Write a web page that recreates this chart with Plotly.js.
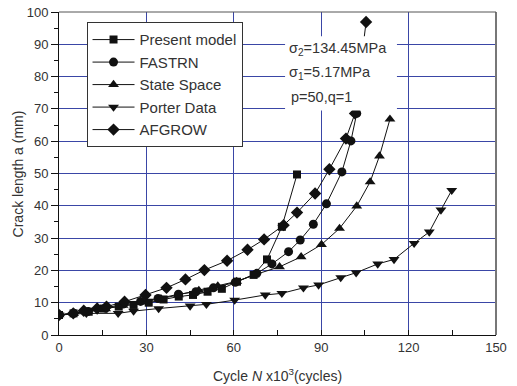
<!DOCTYPE html>
<html><head><meta charset="utf-8">
<script src="https://cdn.plot.ly/plotly-3.0.1.min.js"></script>
<style>html,body{margin:0;padding:0;background:#fff;}#chart{width:517px;height:386px;}</style>
</head><body><div id="chart"></div>
<script>
const seriesNames = ["Present model", "FASTRN", "State Space", "Porter Data", "AFGROW"];
const markerSymbols = ["square", "circle", "triangle-up", "triangle-down", "diamond"];

const presentX = [0, 5, 10.2, 15.4, 20.5, 25.6, 30.8, 35.9, 41.1, 46, 51, 55.9, 61.1, 66.8, 71.4, 76.5, 81.7];
const presentY = [6.2, 6.7, 7.2, 8.2, 8.8, 9.3, 10, 11, 11.9, 12.4, 13.4, 14.3, 16.5, 18.6, 23.4, 33.5, 49.7];

const fastrnX = [0, 5, 10, 16, 22, 28, 34, 41, 47, 53, 60.5, 67.9, 73.1, 78.8, 82.8, 87.3, 91.8, 97.1, 100.2, 102.2];
const fastrnY = [6.2, 6.7, 7.3, 8.3, 9.6, 10.4, 11.3, 12.6, 13.4, 14.6, 16.3, 19.1, 22, 25.8, 29.4, 34.3, 40.6, 50.5, 60.1, 68.6];

const stateX = [0, 5, 10, 16, 22, 28, 35, 41, 48, 54.5, 61, 67, 75.7, 83.1, 90.1, 96.3, 102.2, 106.8, 110, 113.6];
const stateY = [6.2, 6.6, 7.2, 8.1, 9.2, 10.2, 11.2, 12.4, 13.8, 15.2, 16.6, 18.6, 21.1, 24.2, 28, 33, 39.9, 47.4, 55.4, 66.8];

const porterX = [0, 9.4, 20.3, 25.6, 34.2, 45, 50.6, 60.3, 70.8, 76.5, 83.9, 89.1, 96.7, 102, 109.4, 115, 121.9, 127.1, 131.1, 134.8];
const porterY = [6.2, 6.7, 6.7, 7.4, 8.2, 9, 9.5, 10.8, 12.4, 12.9, 14.6, 15.5, 17.8, 19.3, 22, 23.4, 28.4, 31.9, 38.7, 44.8];

const afgrowX = [0, 4.9, 8.5, 13.1, 16.3, 22.5, 29.7, 36.9, 43.4, 49.9, 57.7, 64.7, 70.4, 77.1, 81.7, 87.9, 92.8, 98.5, 101.6, 105.4];
const afgrowY = [6.2, 6.7, 7.5, 8.2, 8.8, 10.3, 12.4, 14.6, 17.2, 20.1, 23, 26.4, 29.6, 34, 37.9, 43.8, 51.3, 60.8, 68.6, 96.9];

const xTicks = [0, 30, 60, 90, 120, 150];
const yTicks = [0, 10, 20, 30, 40, 50, 60, 70, 80, 90, 100];
const annoLines = ["σ<sub>2</sub>=134.45MPa", "σ<sub>1</sub>=5.17MPa", "p=50,q=1"];
const xTitle = "Cycle <i>N</i> x10<sup>3</sup>(cycles)";
const yTitle = "Crack length a (mm)";

const xs = [presentX, fastrnX, stateX, porterX, afgrowX];
const ys = [presentY, fastrnY, stateY, porterY, afgrowY];
const sizes = [8, 9, 9.5, 9.5, 9.5];

const traces = seriesNames.map((n, i) => ({
  x: xs[i], y: ys[i], name: n, type: 'scatter', mode: 'lines+markers',
  line: {color: '#111', width: 1},
  marker: {symbol: markerSymbols[i], color: '#111', size: sizes[i]}
}));

const gridC = '#3a46a6';
const font = "Liberation Sans, Arial, sans-serif";

const layout = {
  width: 517, height: 386,
  margin: {l: 58.5, r: 21, t: 11.7, b: 51},
  paper_bgcolor: '#fff', plot_bgcolor: '#fff',
  font: {family: font, color: '#333', size: 13},
  showlegend: true,
  legend: {x: 0.063, y: 0.968, xanchor: 'left', yanchor: 'top', bgcolor: '#fff',
           bordercolor: '#333', borderwidth: 1, font: {size: 15, color: '#333'},
           tracegroupgap: 0, itemwidth: 42},
  xaxis: {range: [0, 150], tickvals: xTicks, ticktext: xTicks.map(String),
          ticks: 'inside', ticklen: 5, tickcolor: '#111', showline: true, linecolor: '#111', linewidth: 1,
          showgrid: true, gridcolor: gridC, gridwidth: 1, zeroline: false,
          minor: {dtick: 15, ticks: 'inside', ticklen: 5, tickcolor: '#111', showgrid: false},
          tickfont: {size: 13, color: '#333'}},
  yaxis: {range: [0, 100], tickvals: yTicks, ticktext: yTicks.map(String),
          ticks: 'outside', ticklen: 7, tickcolor: '#111', showline: true, linecolor: '#111', linewidth: 1,
          showgrid: true, gridcolor: gridC, gridwidth: 1, zeroline: false,
          minor: {dtick: 5, ticks: 'outside', ticklen: 4, tickcolor: '#111', showgrid: false},
          tickfont: {size: 13, color: '#333'}},
  shapes: [
    {type: 'line', xref: 'paper', yref: 'paper', x0: 1, x1: 1, y0: 0, y1: 1, line: {color: '#777', width: 2}},
    {type: 'line', xref: 'paper', yref: 'paper', x0: 0, x1: 1, y0: 1, y1: 1, line: {color: '#555', width: 1}},
    {type: 'rect', xref: 'x', yref: 'y', x0: 77.6, x1: 116, y0: 69.5, y1: 92.5, layer: 'above',
     fillcolor: '#fff', line: {width: 0}}
  ],
  annotations: [
    {xref: 'x', yref: 'y', x: 78.3, y: 88.4, xanchor: 'left', yanchor: 'middle', showarrow: false, text: annoLines[0], font: {size: 14.5, color: '#333'}},
    {xref: 'x', yref: 'y', x: 78.3, y: 81.0, xanchor: 'left', yanchor: 'middle', showarrow: false, text: annoLines[1], font: {size: 14.5, color: '#333'}},
    {xref: 'x', yref: 'y', x: 78.9, y: 73.6, xanchor: 'left', yanchor: 'middle', showarrow: false, text: annoLines[2], font: {size: 14.5, color: '#333'}},
    {xref: 'paper', yref: 'paper', x: 0.5, y: -0.125, xanchor: 'center', yanchor: 'middle', showarrow: false, text: xTitle, font: {size: 14, color: '#333'}},
    {xref: 'paper', yref: 'paper', x: -0.094, y: 0.5, xanchor: 'center', yanchor: 'middle', showarrow: false, textangle: -90, text: yTitle, font: {size: 14, color: '#333'}}
  ]
};

Plotly.newPlot('chart', traces, layout, {displayModeBar: false, staticPlot: true});
</script></body></html>
